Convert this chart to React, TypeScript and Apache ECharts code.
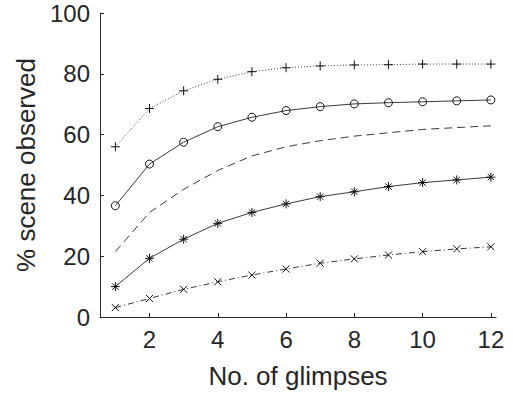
import React, { useEffect, useRef } from "react";
import * as echarts from "echarts";

const glimpses = [1, 2, 3, 4, 5, 6, 7, 8, 9, 10, 11, 12];
const plusSeries = [56.0, 68.6, 74.4, 78.2, 80.7, 82.0, 82.6, 82.9, 83.0, 83.2, 83.2, 83.2];
const circleSeries = [36.6, 50.3, 57.5, 62.6, 65.7, 67.9, 69.2, 70.1, 70.5, 70.8, 71.1, 71.4];
const dashedSeries = [21.5, 34.4, 42.0, 48.2, 53.0, 56.0, 58.0, 59.5, 60.6, 61.7, 62.3, 62.9];
const starSeries = [10.0, 19.3, 25.6, 30.8, 34.4, 37.2, 39.6, 41.2, 42.9, 44.2, 45.1, 46.0];
const crossSeries = [3.1, 6.1, 9.1, 11.6, 13.8, 15.8, 17.7, 19.1, 20.4, 21.5, 22.4, 23.1];
const xTicks = [2, 4, 6, 8, 10, 12];

const FONT = "Liberation Sans, Arial, Helvetica, sans-serif";
const TXT = "#262626";
const LINE = "#3a3a3a";

const PLUS = "path://M0,5L10,5M5,0L5,10";
const CROSS = "path://M0,0L10,10M10,0L0,10";
const STAR = "path://M5,0L5,10M0,5L10,5M1.5,1.5L8.5,8.5M8.5,1.5L1.5,8.5";

function pairs(vals: number[]) {
  return glimpses.map((g, i) => [g, vals[i]]);
}

export default function App() {
  const ref = useRef<HTMLDivElement>(null);
  useEffect(() => {
    document.body.style.margin = "0";
    if (!ref.current) return;
    const chart = echarts.init(ref.current, undefined, { renderer: "svg" });
    const strokeSym = { color: "transparent", borderColor: "#111", borderWidth: 1 };
    chart.setOption({
      animation: false,
      backgroundColor: "#fff",
      grid: { left: 100, right: 17, top: 13, bottom: 83, containLabel: false },
      xAxis: {
        type: "value",
        min: 0.55,
        max: 12.15,
        name: "No. of glimpses",
        nameLocation: "middle",
        nameGap: 46,
        nameTextStyle: { fontFamily: FONT, fontSize: 26, color: TXT },
        axisLine: { show: true, lineStyle: { color: TXT, width: 1 } },
        axisTick: { show: true, inside: true, length: 4, customValues: xTicks, lineStyle: { color: TXT } },
        axisLabel: { customValues: xTicks, fontFamily: FONT, fontSize: 24, color: TXT, margin: 10 },
        splitLine: { show: false },
      },
      yAxis: {
        type: "value",
        min: 0,
        max: 100,
        interval: 20,
        name: "% scene observed",
        nameLocation: "middle",
        nameGap: 60,
        nameTextStyle: { fontFamily: FONT, fontSize: 26, color: TXT },
        axisLine: { show: true, lineStyle: { color: TXT, width: 1 } },
        axisTick: { show: true, inside: true, length: 4, lineStyle: { color: TXT } },
        axisLabel: { fontFamily: FONT, fontSize: 24, color: TXT, margin: 10 },
        splitLine: { show: false },
      },
      series: [
        {
          type: "line",
          data: pairs(plusSeries),
          symbol: PLUS,
          symbolSize: 9,
          itemStyle: strokeSym,
          lineStyle: { color: LINE, width: 1, type: [1, 2] },
        },
        {
          type: "line",
          data: pairs(circleSeries),
          symbol: "circle",
          symbolSize: 8,
          itemStyle: strokeSym,
          lineStyle: { color: LINE, width: 1 },
        },
        {
          type: "line",
          data: pairs(dashedSeries),
          symbol: "none",
          lineStyle: { color: LINE, width: 1, type: [8, 5] },
        },
        {
          type: "line",
          data: pairs(starSeries),
          symbol: STAR,
          symbolSize: 9,
          itemStyle: strokeSym,
          lineStyle: { color: LINE, width: 1 },
        },
        {
          type: "line",
          data: pairs(crossSeries),
          symbol: CROSS,
          symbolSize: 7,
          itemStyle: strokeSym,
          lineStyle: { color: LINE, width: 1, type: [6, 3, 1, 3] },
        },
      ],
    });
    return () => chart.dispose();
  }, []);
  return <div ref={ref} style={{ width: 513, height: 400 }} />;
}
